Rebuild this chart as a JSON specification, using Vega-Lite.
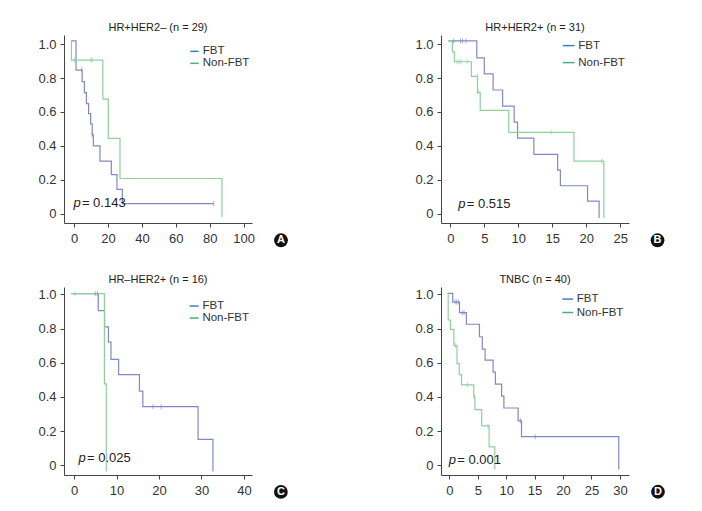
{
  "$schema": "https://vega.github.io/schema/vega-lite/v6.json",
  "padding": {"left": 37, "top": 22, "right": 5, "bottom": 5},
  "bounds": "flush",
  "columns": 2,
  "spacing": {"row": 64, "column": 189},
  "datasets": {
    "curves": [
      {"p": "A", "g": "FBT", "t": -1.8, "s": 1.02},
      {"p": "A", "g": "FBT", "t": 1.2, "s": 0.848},
      {"p": "A", "g": "FBT", "t": 4.8, "s": 0.78},
      {"p": "A", "g": "FBT", "t": 6.1, "s": 0.715},
      {"p": "A", "g": "FBT", "t": 7.3, "s": 0.65},
      {"p": "A", "g": "FBT", "t": 8.6, "s": 0.59},
      {"p": "A", "g": "FBT", "t": 9.8, "s": 0.53},
      {"p": "A", "g": "FBT", "t": 10.7, "s": 0.465},
      {"p": "A", "g": "FBT", "t": 11.4, "s": 0.4},
      {"p": "A", "g": "FBT", "t": 15.3, "s": 0.31},
      {"p": "A", "g": "FBT", "t": 22.0, "s": 0.23},
      {"p": "A", "g": "FBT", "t": 25.3, "s": 0.143},
      {"p": "A", "g": "FBT", "t": 28.5, "s": 0.059},
      {"p": "A", "g": "FBT", "t": 82.3, "s": 0.059},
      {"p": "A", "g": "Non-FBT", "t": -1.8, "s": 1.02},
      {"p": "A", "g": "Non-FBT", "t": -1.5, "s": 0.907},
      {"p": "A", "g": "Non-FBT", "t": 17.0, "s": 0.676},
      {"p": "A", "g": "Non-FBT", "t": 20.2, "s": 0.444},
      {"p": "A", "g": "Non-FBT", "t": 27.1, "s": 0.207},
      {"p": "A", "g": "Non-FBT", "t": 87.2, "s": -0.02},
      {"p": "B", "g": "FBT", "t": -0.3, "s": 1.02},
      {"p": "B", "g": "FBT", "t": 3.9, "s": 0.92},
      {"p": "B", "g": "FBT", "t": 5.0, "s": 0.825},
      {"p": "B", "g": "FBT", "t": 6.3, "s": 0.73},
      {"p": "B", "g": "FBT", "t": 7.7, "s": 0.635},
      {"p": "B", "g": "FBT", "t": 9.4, "s": 0.54},
      {"p": "B", "g": "FBT", "t": 9.9, "s": 0.445},
      {"p": "B", "g": "FBT", "t": 12.3, "s": 0.35},
      {"p": "B", "g": "FBT", "t": 15.8, "s": 0.256},
      {"p": "B", "g": "FBT", "t": 16.2, "s": 0.164},
      {"p": "B", "g": "FBT", "t": 20.2, "s": 0.073},
      {"p": "B", "g": "FBT", "t": 21.9, "s": -0.026},
      {"p": "B", "g": "Non-FBT", "t": -0.3, "s": 1.02},
      {"p": "B", "g": "Non-FBT", "t": 0.3, "s": 0.955},
      {"p": "B", "g": "Non-FBT", "t": 0.6, "s": 0.897},
      {"p": "B", "g": "Non-FBT", "t": 3.1, "s": 0.81},
      {"p": "B", "g": "Non-FBT", "t": 4.0, "s": 0.716},
      {"p": "B", "g": "Non-FBT", "t": 4.4, "s": 0.61},
      {"p": "B", "g": "Non-FBT", "t": 8.6, "s": 0.48},
      {"p": "B", "g": "Non-FBT", "t": 18.2, "s": 0.31},
      {"p": "B", "g": "Non-FBT", "t": 22.6, "s": -0.026},
      {"p": "C", "g": "FBT", "t": -0.7, "s": 1.004},
      {"p": "C", "g": "FBT", "t": 5.7, "s": 0.905},
      {"p": "C", "g": "FBT", "t": 7.2, "s": 0.81},
      {"p": "C", "g": "FBT", "t": 8.1, "s": 0.72},
      {"p": "C", "g": "FBT", "t": 8.7, "s": 0.62},
      {"p": "C", "g": "FBT", "t": 10.5, "s": 0.53},
      {"p": "C", "g": "FBT", "t": 15.4, "s": 0.434},
      {"p": "C", "g": "FBT", "t": 16.2, "s": 0.343},
      {"p": "C", "g": "FBT", "t": 29.2, "s": 0.152},
      {"p": "C", "g": "FBT", "t": 32.7, "s": -0.037},
      {"p": "C", "g": "Non-FBT", "t": -0.7, "s": 1.004},
      {"p": "C", "g": "Non-FBT", "t": 7.15, "s": 0.476},
      {"p": "C", "g": "Non-FBT", "t": 7.6, "s": -0.037},
      {"p": "D", "g": "FBT", "t": -0.3, "s": 1.006},
      {"p": "D", "g": "FBT", "t": 0.6, "s": 0.955},
      {"p": "D", "g": "FBT", "t": 1.8, "s": 0.893},
      {"p": "D", "g": "FBT", "t": 3.0, "s": 0.825},
      {"p": "D", "g": "FBT", "t": 5.3, "s": 0.752},
      {"p": "D", "g": "FBT", "t": 5.8, "s": 0.68},
      {"p": "D", "g": "FBT", "t": 6.3, "s": 0.615},
      {"p": "D", "g": "FBT", "t": 7.7, "s": 0.545},
      {"p": "D", "g": "FBT", "t": 8.1, "s": 0.475},
      {"p": "D", "g": "FBT", "t": 9.2, "s": 0.405},
      {"p": "D", "g": "FBT", "t": 9.6, "s": 0.335},
      {"p": "D", "g": "FBT", "t": 12.1, "s": 0.26},
      {"p": "D", "g": "FBT", "t": 12.7, "s": 0.167},
      {"p": "D", "g": "FBT", "t": 29.8, "s": -0.025},
      {"p": "D", "g": "Non-FBT", "t": -0.3, "s": 1.006},
      {"p": "D", "g": "Non-FBT", "t": -0.2, "s": 0.85},
      {"p": "D", "g": "Non-FBT", "t": 0.2, "s": 0.795},
      {"p": "D", "g": "Non-FBT", "t": 0.8, "s": 0.7},
      {"p": "D", "g": "Non-FBT", "t": 1.35, "s": 0.595},
      {"p": "D", "g": "Non-FBT", "t": 1.75, "s": 0.53},
      {"p": "D", "g": "Non-FBT", "t": 2.15, "s": 0.47},
      {"p": "D", "g": "Non-FBT", "t": 4.3, "s": 0.4},
      {"p": "D", "g": "Non-FBT", "t": 4.5, "s": 0.325},
      {"p": "D", "g": "Non-FBT", "t": 5.7, "s": 0.23},
      {"p": "D", "g": "Non-FBT", "t": 7.0, "s": 0.107},
      {"p": "D", "g": "Non-FBT", "t": 8.0, "s": -0.025}
    ],
    "censors": [
      {"p": "A", "g": "FBT", "t": 4.5, "s": 0.848},
      {"p": "A", "g": "FBT", "t": 10.8, "s": 0.465},
      {"p": "A", "g": "FBT", "t": 82.3, "s": 0.059},
      {"p": "A", "g": "Non-FBT", "t": 0.3, "s": 0.907},
      {"p": "A", "g": "Non-FBT", "t": 10.0, "s": 0.907},
      {"p": "A", "g": "Non-FBT", "t": 10.6, "s": 0.907},
      {"p": "B", "g": "FBT", "t": 0.5, "s": 1.02},
      {"p": "B", "g": "FBT", "t": 1.5, "s": 1.02},
      {"p": "B", "g": "FBT", "t": 1.8, "s": 1.02},
      {"p": "B", "g": "FBT", "t": 2.3, "s": 1.02},
      {"p": "B", "g": "Non-FBT", "t": 1.0, "s": 0.897},
      {"p": "B", "g": "Non-FBT", "t": 1.3, "s": 0.897},
      {"p": "B", "g": "Non-FBT", "t": 1.6, "s": 0.897},
      {"p": "B", "g": "Non-FBT", "t": 2.5, "s": 0.897},
      {"p": "B", "g": "Non-FBT", "t": 4.0, "s": 0.81},
      {"p": "B", "g": "Non-FBT", "t": 4.1, "s": 0.716},
      {"p": "B", "g": "Non-FBT", "t": 14.8, "s": 0.48},
      {"p": "B", "g": "Non-FBT", "t": 22.3, "s": 0.31},
      {"p": "C", "g": "FBT", "t": 5.0, "s": 1.004},
      {"p": "C", "g": "FBT", "t": 5.5, "s": 1.004},
      {"p": "C", "g": "FBT", "t": 18.6, "s": 0.343},
      {"p": "C", "g": "FBT", "t": 20.5, "s": 0.343},
      {"p": "C", "g": "Non-FBT", "t": 0.2, "s": 1.004},
      {"p": "D", "g": "FBT", "t": 1.0, "s": 0.955},
      {"p": "D", "g": "FBT", "t": 1.3, "s": 0.955},
      {"p": "D", "g": "FBT", "t": 1.6, "s": 0.955},
      {"p": "D", "g": "FBT", "t": 2.3, "s": 0.893},
      {"p": "D", "g": "FBT", "t": 2.6, "s": 0.893},
      {"p": "D", "g": "FBT", "t": 12.5, "s": 0.26},
      {"p": "D", "g": "FBT", "t": 15.1, "s": 0.167},
      {"p": "D", "g": "Non-FBT", "t": 1.1, "s": 0.7},
      {"p": "D", "g": "Non-FBT", "t": 3.2, "s": 0.47},
      {"p": "D", "g": "Non-FBT", "t": 4.4, "s": 0.4},
      {"p": "D", "g": "Non-FBT", "t": 6.8, "s": 0.23}
    ],
    "stats": [
      {"p": "A", "pv": "= 0.143"},
      {"p": "B", "pv": "= 0.515"},
      {"p": "C", "pv": "= 0.025"},
      {"p": "D", "pv": "= 0.001"}
    ],
    "groups": [
      {"grp": "FBT"},
      {"grp": "Non-FBT"}
    ]
  },
  "concat": [
    {
      "width": 188, "height": 188,
      "title": "HR+HER2– (n = 29)",
      "layer": [
        {"data": {"name": "curves"}, "transform": [{"filter": "datum.p === 'A'"}],
         "mark": {"type": "line", "interpolate": "step-after", "strokeWidth": 1.2},
         "encoding": {
           "x": {"field": "t", "type": "quantitative", "scale": {"domain": [-5.9, 104.9], "nice": false, "zero": false}, "axis": {"values": [0, 20, 40, 60, 80, 100], "tickCount": 20}},
           "y": {"field": "s", "type": "quantitative", "scale": {"domain": [-0.056, 1.055], "nice": false, "zero": false}, "axis": {"values": [0, 0.2, 0.4, 0.6, 0.8, 1], "tickCount": 20, "labelExpr": "datum.value == 0 ? '0' : format(datum.value, '.1f')"}},
           "stroke": {"field": "g", "type": "nominal", "scale": {"range": ["#8089c6", "#8fcf9e"]}, "legend": null}
         }},
        {"data": {"name": "censors"}, "transform": [{"filter": "datum.p === 'A'"}],
         "mark": {"type": "tick", "orient": "vertical", "size": 5, "thickness": 1},
         "encoding": {"x": {"field": "t", "type": "quantitative"}, "y": {"field": "s", "type": "quantitative"},
           "fill": {"field": "g", "type": "nominal", "scale": {"range": ["#8089c6", "#8fcf9e"]}, "legend": null}}},
        {"data": {"name": "groups"},
         "mark": {"type": "line"},
         "encoding": {
           "x": {"datum": 0},
           "y": {"datum": 0.5},
           "color": {"field": "grp", "type": "nominal", "scale": {"domain": ["FBT", "Non-FBT"], "range": ["#3f7fc0", "#46b07a"]},
             "legend": {"legendX": 124.7, "legendY": 10.6, "symbolSize": 70, "rowPadding": -1.5}}
         }},
        {"data": {"name": "stats"}, "transform": [{"filter": "datum.p === 'A'"}],
         "mark": {"type": "text", "text": "p", "fontStyle": "italic", "align": "left", "baseline": "middle", "fontSize": 13, "color": "#222"},
         "encoding": {"x": {"datum": -0.35}, "y": {"datum": 0.063}}},
        {"data": {"name": "stats"}, "transform": [{"filter": "datum.p === 'A'"}],
         "mark": {"type": "text", "align": "left", "baseline": "middle", "fontSize": 13, "dx": 8.5, "color": "#222"},
         "encoding": {"x": {"datum": -0.35}, "y": {"datum": 0.063}, "text": {"field": "pv"}}},
        {"data": {"name": "stats"}, "transform": [{"filter": "datum.p === 'A'"}],
         "mark": {"type": "point", "filled": true, "size": 190, "color": "#111", "opacity": 1},
         "encoding": {"x": {"datum": 122}, "y": {"datum": -0.158}}},
        {"data": {"name": "stats"}, "transform": [{"filter": "datum.p === 'A'"}],
         "mark": {"type": "text", "align": "center", "baseline": "middle", "fontSize": 11, "fontWeight": "bold", "color": "white"},
         "encoding": {"x": {"datum": 122}, "y": {"datum": -0.158}, "text": {"field": "p"}}}
      ]
    },
    {
      "width": 188, "height": 188,
      "title": "HR+HER2+ (n = 31)",
      "layer": [
        {"data": {"name": "curves"}, "transform": [{"filter": "datum.p === 'B'"}],
         "mark": {"type": "line", "interpolate": "step-after", "strokeWidth": 1.2},
         "encoding": {
           "x": {"field": "t", "type": "quantitative", "scale": {"domain": [-1.37, 26.3], "nice": false, "zero": false}, "axis": {"values": [0, 5, 10, 15, 20, 25], "tickCount": 20}},
           "y": {"field": "s", "type": "quantitative", "scale": {"domain": [-0.056, 1.055], "nice": false, "zero": false}, "axis": {"values": [0, 0.2, 0.4, 0.6, 0.8, 1], "tickCount": 20, "labelExpr": "datum.value == 0 ? '0' : format(datum.value, '.1f')"}},
           "stroke": {"field": "g", "type": "nominal", "scale": {"range": ["#8089c6", "#8fcf9e"]}, "legend": null}
         }},
        {"data": {"name": "censors"}, "transform": [{"filter": "datum.p === 'B'"}],
         "mark": {"type": "tick", "orient": "vertical", "size": 5, "thickness": 1},
         "encoding": {"x": {"field": "t", "type": "quantitative"}, "y": {"field": "s", "type": "quantitative"},
           "fill": {"field": "g", "type": "nominal", "scale": {"range": ["#8089c6", "#8fcf9e"]}, "legend": null}}},
        {"data": {"name": "groups"},
         "mark": {"type": "line"},
         "encoding": {
           "x": {"datum": 0},
           "y": {"datum": 0.5},
           "color": {"field": "grp", "type": "nominal", "scale": {"domain": ["FBT", "Non-FBT"], "range": ["#3f7fc0", "#46b07a"]},
             "legend": {"legendX": 120.7, "legendY": 3.6, "symbolSize": 135, "rowPadding": 4}}
         }},
        {"data": {"name": "stats"}, "transform": [{"filter": "datum.p === 'B'"}],
         "mark": {"type": "text", "text": "p", "fontStyle": "italic", "align": "left", "baseline": "middle", "fontSize": 13, "color": "#222"},
         "encoding": {"x": {"datum": 1.18}, "y": {"datum": 0.055}}},
        {"data": {"name": "stats"}, "transform": [{"filter": "datum.p === 'B'"}],
         "mark": {"type": "text", "align": "left", "baseline": "middle", "fontSize": 13, "dx": 8.5, "color": "#222"},
         "encoding": {"x": {"datum": 1.18}, "y": {"datum": 0.055}, "text": {"field": "pv"}}},
        {"data": {"name": "stats"}, "transform": [{"filter": "datum.p === 'B'"}],
         "mark": {"type": "point", "filled": true, "size": 190, "color": "#111", "opacity": 1},
         "encoding": {"x": {"datum": 30.5}, "y": {"datum": -0.158}}},
        {"data": {"name": "stats"}, "transform": [{"filter": "datum.p === 'B'"}],
         "mark": {"type": "text", "align": "center", "baseline": "middle", "fontSize": 11, "fontWeight": "bold", "color": "white"},
         "encoding": {"x": {"datum": 30.5}, "y": {"datum": -0.158}, "text": {"field": "p"}}}
      ]
    },
    {
      "width": 188, "height": 188,
      "title": "HR–HER2+ (n = 16)",
      "layer": [
        {"data": {"name": "curves"}, "transform": [{"filter": "datum.p === 'C'"}],
         "mark": {"type": "line", "interpolate": "step-after", "strokeWidth": 1.2},
         "encoding": {
           "x": {"field": "t", "type": "quantitative", "scale": {"domain": [-2.36, 41.9], "nice": false, "zero": false}, "axis": {"values": [0, 10, 20, 30, 40], "tickCount": 20}},
           "y": {"field": "s", "type": "quantitative", "scale": {"domain": [-0.057, 1.043], "nice": false, "zero": false}, "axis": {"values": [0, 0.2, 0.4, 0.6, 0.8, 1], "tickCount": 20, "labelExpr": "datum.value == 0 ? '0' : format(datum.value, '.1f')"}},
           "stroke": {"field": "g", "type": "nominal", "scale": {"range": ["#8089c6", "#8fcf9e"]}, "legend": null}
         }},
        {"data": {"name": "censors"}, "transform": [{"filter": "datum.p === 'C'"}],
         "mark": {"type": "tick", "orient": "vertical", "size": 5, "thickness": 1},
         "encoding": {"x": {"field": "t", "type": "quantitative"}, "y": {"field": "s", "type": "quantitative"},
           "fill": {"field": "g", "type": "nominal", "scale": {"range": ["#8089c6", "#8fcf9e"]}, "legend": null}}},
        {"data": {"name": "groups"},
         "mark": {"type": "line"},
         "encoding": {
           "x": {"datum": 0},
           "y": {"datum": 0.5},
           "color": {"field": "grp", "type": "nominal", "scale": {"domain": ["FBT", "Non-FBT"], "range": ["#3f7fc0", "#46b07a"]},
             "legend": {"legendX": 124.4, "legendY": 13.3, "symbolSize": 80, "rowPadding": -1.1}}
         }},
        {"data": {"name": "stats"}, "transform": [{"filter": "datum.p === 'C'"}],
         "mark": {"type": "text", "text": "p", "fontStyle": "italic", "align": "left", "baseline": "middle", "fontSize": 13, "color": "#222"},
         "encoding": {"x": {"datum": 1.04}, "y": {"datum": 0.044}}},
        {"data": {"name": "stats"}, "transform": [{"filter": "datum.p === 'C'"}],
         "mark": {"type": "text", "align": "left", "baseline": "middle", "fontSize": 13, "dx": 8.5, "color": "#222"},
         "encoding": {"x": {"datum": 1.04}, "y": {"datum": 0.044}, "text": {"field": "pv"}}},
        {"data": {"name": "stats"}, "transform": [{"filter": "datum.p === 'C'"}],
         "mark": {"type": "point", "filled": true, "size": 190, "color": "#111", "opacity": 1},
         "encoding": {"x": {"datum": 48.7}, "y": {"datum": -0.156}}},
        {"data": {"name": "stats"}, "transform": [{"filter": "datum.p === 'C'"}],
         "mark": {"type": "text", "align": "center", "baseline": "middle", "fontSize": 11, "fontWeight": "bold", "color": "white"},
         "encoding": {"x": {"datum": 48.7}, "y": {"datum": -0.156}, "text": {"field": "p"}}}
      ]
    },
    {
      "width": 188, "height": 188,
      "title": "TNBC (n = 40)",
      "layer": [
        {"data": {"name": "curves"}, "transform": [{"filter": "datum.p === 'D'"}],
         "mark": {"type": "line", "interpolate": "step-after", "strokeWidth": 1.2},
         "encoding": {
           "x": {"field": "t", "type": "quantitative", "scale": {"domain": [-1.46, 31.6], "nice": false, "zero": false}, "axis": {"values": [0, 5, 10, 15, 20, 25, 30], "tickCount": 20}},
           "y": {"field": "s", "type": "quantitative", "scale": {"domain": [-0.057, 1.043], "nice": false, "zero": false}, "axis": {"values": [0, 0.2, 0.4, 0.6, 0.8, 1], "tickCount": 20, "labelExpr": "datum.value == 0 ? '0' : format(datum.value, '.1f')"}},
           "stroke": {"field": "g", "type": "nominal", "scale": {"range": ["#8089c6", "#8fcf9e"]}, "legend": null}
         }},
        {"data": {"name": "censors"}, "transform": [{"filter": "datum.p === 'D'"}],
         "mark": {"type": "tick", "orient": "vertical", "size": 5, "thickness": 1},
         "encoding": {"x": {"field": "t", "type": "quantitative"}, "y": {"field": "s", "type": "quantitative"},
           "fill": {"field": "g", "type": "nominal", "scale": {"range": ["#8089c6", "#8fcf9e"]}, "legend": null}}},
        {"data": {"name": "groups"},
         "mark": {"type": "line"},
         "encoding": {
           "x": {"datum": 0},
           "y": {"datum": 0.5},
           "color": {"field": "grp", "type": "nominal", "scale": {"domain": ["FBT", "Non-FBT"], "range": ["#3f7fc0", "#46b07a"]},
             "legend": {"legendX": 120.2, "legendY": 5.6, "symbolSize": 115, "rowPadding": 1.4}}
         }},
        {"data": {"name": "stats"}, "transform": [{"filter": "datum.p === 'D'"}],
         "mark": {"type": "text", "text": "p", "fontStyle": "italic", "align": "left", "baseline": "middle", "fontSize": 13, "color": "#222"},
         "encoding": {"x": {"datum": -0.1}, "y": {"datum": 0.033}}},
        {"data": {"name": "stats"}, "transform": [{"filter": "datum.p === 'D'"}],
         "mark": {"type": "text", "align": "left", "baseline": "middle", "fontSize": 13, "dx": 8.5, "color": "#222"},
         "encoding": {"x": {"datum": -0.1}, "y": {"datum": 0.033}, "text": {"field": "pv"}}},
        {"data": {"name": "stats"}, "transform": [{"filter": "datum.p === 'D'"}],
         "mark": {"type": "point", "filled": true, "size": 190, "color": "#111", "opacity": 1},
         "encoding": {"x": {"datum": 36.7}, "y": {"datum": -0.155}}},
        {"data": {"name": "stats"}, "transform": [{"filter": "datum.p === 'D'"}],
         "mark": {"type": "text", "align": "center", "baseline": "middle", "fontSize": 11, "fontWeight": "bold", "color": "white"},
         "encoding": {"x": {"datum": 36.7}, "y": {"datum": -0.155}, "text": {"field": "p"}}}
      ]
    }
  ],
  "resolve": {"scale": {"color": "independent", "stroke": "independent", "fill": "independent"}, "legend": {"color": "independent", "stroke": "independent", "fill": "independent"}},
  "config": {
    "font": "Liberation Sans, sans-serif",
    "view": {"stroke": null},
    "axis": {"grid": false, "title": null, "domainColor": "#444", "tickColor": "#444", "labelColor": "#333", "labelFontSize": 13, "tickSize": 4, "labelPadding": 4, "labelOverlap": false, "labelFlush": false, "labelFont": "Liberation Sans, sans-serif"},
    "axisX": {"labelPadding": 5},
    "legend": {"orient": "none", "title": null, "padding": 0, "symbolType": "stroke", "symbolSize": 100, "symbolStrokeWidth": 1.5, "labelFontSize": 11.5, "labelOffset": 2.5, "rowPadding": 3, "labelColor": "#333", "labelFont": "Liberation Sans, sans-serif"},
    "title": {"fontSize": 11, "fontWeight": "normal", "color": "#222", "offset": 2, "font": "Liberation Sans, sans-serif"},
    "text": {"font": "Liberation Sans, sans-serif"}
  }
}
